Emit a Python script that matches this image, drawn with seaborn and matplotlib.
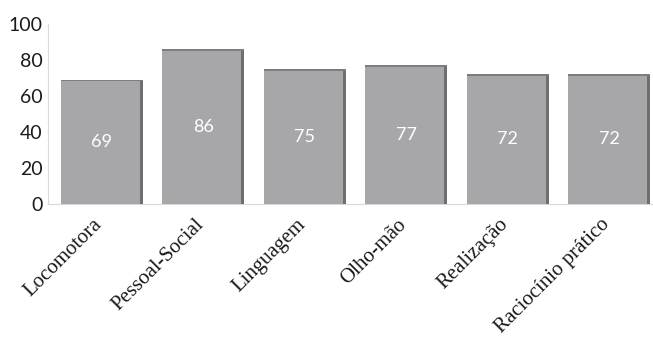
import matplotlib
matplotlib.use("Agg")
import matplotlib.pyplot as plt
import matplotlib.transforms as mtransforms
import seaborn as sns
import pandas as pd
from matplotlib.patches import Rectangle

categories = ["Locomotora", "Pessoal-Social", "Linguagem", "Olho-mão", "Realização", "Raciocínio prático"]
values = [69, 86, 75, 77, 72, 72]
yticks = [0, 20, 40, 60, 80, 100]

sns.set_theme(style="white")
plt.rcParams['font.family'] = ['Lato', 'DejaVu Sans']

df = pd.DataFrame({"cat": categories, "val": values})

fig = plt.figure(figsize=(6.53, 3.4), dpi=100)
ax = fig.add_axes([48/653, 1-204/340, 1-48/653, 180/340])

sns.barplot(data=df, x="cat", y="val", color="#a7a7a9", saturation=1, width=0.81,
            ax=ax, linewidth=0, zorder=3)

# 3D-like darker side and top
for p in ax.patches[:len(values)]:
    x0, w, h = p.get_x(), p.get_width(), p.get_height()
    ax.add_patch(Rectangle((x0 + w - 0.03, 0), 0.03, h, color="#6e6e70", zorder=4, lw=0))
    ax.add_patch(Rectangle((x0, h - 0.9), w, 0.9, color="#7d7d7f", zorder=4, lw=0))
    ax.text(x0 + w/2, h/2, f"{int(h)}", color="white", ha="center", va="center",
            fontsize=13, zorder=5)

ax.set_xlim(-0.53, 5.43)
ax.set_ylim(0, 100)
ax.set_yticks(yticks)
ax.set_yticklabels([str(t) for t in yticks], fontsize=14, color="#1a1a1a")
ax.tick_params(axis="y", length=0, pad=4)
ax.tick_params(axis="x", length=0, pad=0)
ax.set_xticks(range(len(categories)))
ax.set_xticklabels(categories, rotation=45, ha="right", va="top", rotation_mode="anchor",
                   fontsize=15, family=["Liberation Serif", "DejaVu Serif"], color="#1a1a1a")
offset = mtransforms.ScaledTranslation(-9/100, -11/100, fig.dpi_scale_trans)
for lbl in ax.get_xticklabels():
    lbl.set_transform(lbl.get_transform() + offset)
ax.set_xlabel("")
ax.set_ylabel("")
for s in ["top", "right"]:
    ax.spines[s].set_visible(False)
ax.spines["left"].set_color("#d9d9d9")
ax.spines["bottom"].set_color("#d9d9d9")
ax.spines["left"].set_linewidth(0.8)
ax.spines["bottom"].set_linewidth(0.8)

fig.savefig("out.png", dpi=100)
